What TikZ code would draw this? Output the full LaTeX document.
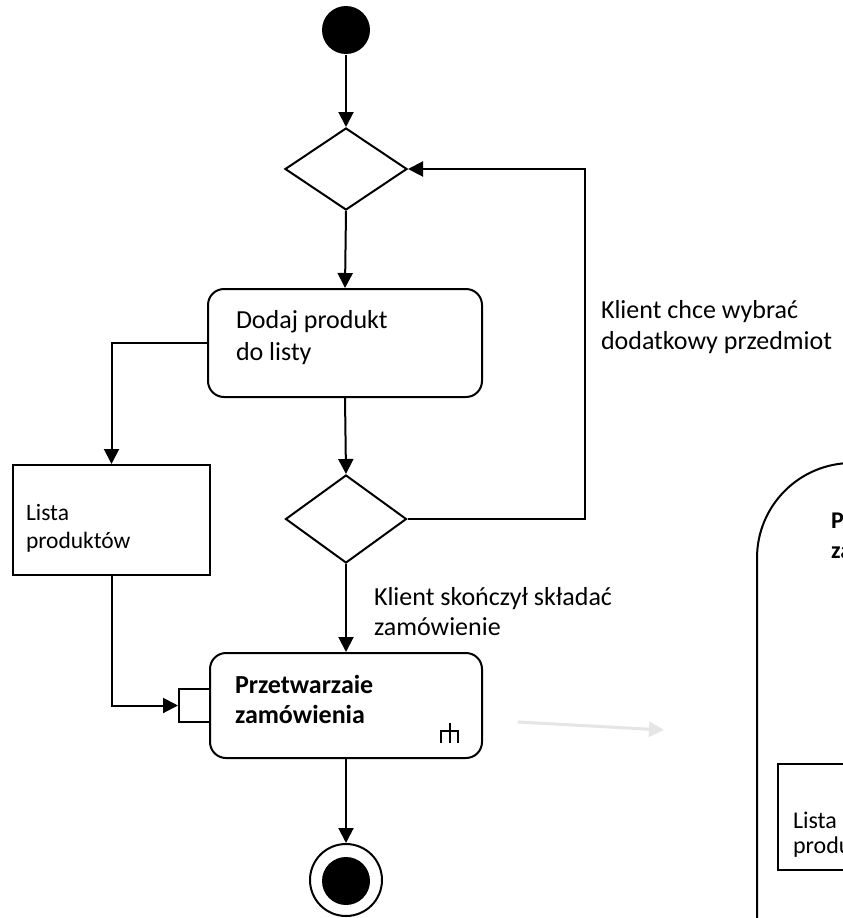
\documentclass[tikz,border=0pt]{standalone}
\usepackage{fontspec}
\setmainfont{Carlito}
\usetikzlibrary{arrows.meta,shapes.geometric}
\begin{document}
\begin{tikzpicture}[x=1pt,y=-1pt,
  line width=2pt,
  arr/.style={-{Triangle[length=15pt,width=15pt]}},
  action/.style={draw,rounded corners=16pt,inner sep=0pt},
  objbox/.style={draw,inner sep=0pt},
  decision/.style={draw,diamond,inner sep=0pt},
  lbl/.style={anchor=base west,inner sep=0pt,font=\fontsize{26}{31}\selectfont},
  small/.style={anchor=base west,inner sep=0pt,font=\fontsize{23.5}{28}\selectfont},
  boldlbl/.style={anchor=base west,inner sep=0pt,font=\fontsize{26}{31}\selectfont\bfseries},
]
\clip (0,0) rectangle (843,918);
\fill[white] (0,0) rectangle (843,918);

% initial and final nodes
\node[circle,fill=black,minimum size=48pt,inner sep=0pt] (start) at (346,30) {};
\node[circle,draw,minimum size=72pt,inner sep=0pt] (final) at (346,880) {};
\node[circle,fill=black,minimum size=48pt,inner sep=0pt] (finaldot) at (346,881) {};

% decisions
\node[decision,minimum width=122pt,minimum height=82pt] (d1) at (346,169) {};
\node[decision,minimum width=121pt,minimum height=88pt] (d2) at (346,519) {};

% actions
\node[action,minimum width=274pt,minimum height=108pt] (add) at (345,343) {};
\node[action,minimum width=272pt,minimum height=105pt] (proc) at (346,705.5) {};

% object node and input pin
\node[objbox,minimum width=197pt,minimum height=110pt] (list) at (111.5,520) {};
\node[objbox,minimum width=31pt,minimum height=33pt] (pin) at (194.5,705.5) {};

% texts
\node[lbl] (t1) at (235,328) {Dodaj produkt};
\node[lbl] (t2) at (235,360) {do listy};
\node[small] (t3) at (25,520) {Lista};
\node[small] (t4) at (25,548) {produktów};
\node[lbl] (t5) at (600,318) {Klient chce wybrać};
\node[lbl] (t6) at (600,349) {dodatkowy przedmiot};
\node[lbl] (t7) at (373,605) {Klient skończył składać};
\node[lbl] (t8) at (373,635) {zamówienie};
\node[boldlbl] (t9) at (234,693) {Przetwarzaie};
\node[boldlbl] (t10) at (234,723) {zamówienia};

% call-behaviour rake
\draw[line width=1.2pt] (450,723) -- (450,743) (441,743) -- (441,731) -- (458,731) -- (458,743);

% control flow
\draw[arr] (start) -- (d1.north);
\draw[arr] (d1.south) -- (add.north);
\draw[arr] (add.south) -- (d2.north);
\draw[arr] (d2.south) -- (proc.north);
\draw[arr] (proc.south) -- (final.north);
\coordinate (loop) at (585,169);
\draw[arr] (d2.east) -| (loop) -- (d1.east);

% object flow
\draw[arr] (add.west) -| (list.north);
\draw[arr] (list.south) |- (pin.west);

% expansion hint
\coordinate (ea) at (518,722);
\coordinate (eb) at (664,730);
\draw[black!10,line width=3pt,-{Triangle[length=15pt,width=15pt]}] (ea) -- (eb);

% expanded activity (partly visible)
\draw (757,930) -- (757,558) arc[start angle=180,end angle=270,radius=95] -- (900,463);
\node[anchor=base west,inner sep=0pt,font=\fontsize{24}{30}\selectfont\bfseries] (r1) at (830,528) {Przetwarzaie};
\node[anchor=base west,inner sep=0pt,font=\fontsize{24}{30}\selectfont\bfseries] (r2) at (830,558) {zamówienia};
\draw (900,764) -- (778,764) -- (778,870) -- (900,870);
\node[anchor=base west,inner sep=0pt,font=\fontsize{24}{26}\selectfont] (r3) at (792,828) {Lista};
\node[anchor=base west,inner sep=0pt,font=\fontsize{24}{26}\selectfont] (r4) at (792,853) {produktów};
\end{tikzpicture}
\end{document}
